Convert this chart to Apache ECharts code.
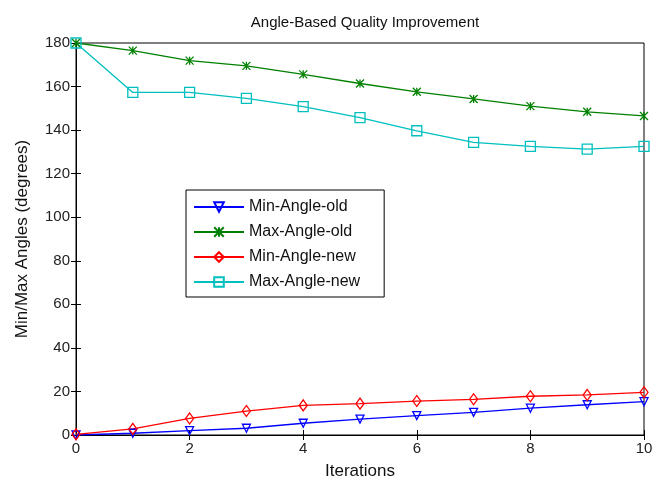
<!DOCTYPE html>
<html>
<head>
<meta charset="utf-8">
<script src="https://cdn.jsdelivr.net/npm/echarts@6/dist/echarts.min.js"></script>
<style>
  html, body { margin: 0; padding: 0; background: #fff; }
  #chart { width: 653px; height: 482px; }
</style>
</head>
<body>
<div id="chart"></div>
<script>
// Iterations along x
const iterations = [0, 1, 2, 3, 4, 5, 6, 7, 8, 9, 10];

// Series values (degrees)
const minAngleOld = [0, 0.8, 2.0, 3.1, 5.4, 7.3, 8.9, 10.4, 12.3, 13.9, 15.3];
const maxAngleOld = [180, 176.5, 171.9, 169.5, 165.6, 161.4, 157.6, 154.3, 151.0, 148.4, 146.5];
const minAngleNew = [0.3, 2.8, 7.6, 11.0, 13.6, 14.4, 15.6, 16.4, 17.8, 18.4, 19.6];
const maxAngleNew = [180, 157.3, 157.3, 154.6, 150.8, 145.7, 139.7, 134.4, 132.5, 131.3, 132.5];

const font = 'Liberation Sans, Arial, sans-serif';
const xMark = 'path://M0,0L10,10M10,0L0,10M5,0L5,10';

const pairs = arr => iterations.map((x, i) => [x, arr[i]]);

const chart = echarts.init(document.getElementById('chart'));

const baseAxis = {
    type: 'value',
    axisLine: { show: true, lineStyle: { color: '#000', width: 1 } },
    axisTick: { show: true, inside: true, length: 5, lineStyle: { color: '#000' } },
    splitLine: { show: false },
    axisLabel: { color: '#222', fontFamily: font, fontSize: 15, margin: 6 }
};

function lineSeries(name, arr, color, symbol, extra = {}) {
    return {
        name,
        type: 'line',
        data: pairs(arr),
        symbol,
        symbolSize: 9,
        showSymbol: true,
        lineStyle: { color, width: 1.3 },
        itemStyle: { color: 'transparent', borderColor: color, borderWidth: 1.3 },
        emphasis: { disabled: true },
        animation: false,
        ...extra
    };
}

chart.setOption({
    backgroundColor: '#fff',
    title: {
        text: 'Angle-Based Quality Improvement',
        left: 360,
        textAlign: 'center',
        top: 10,
        textStyle: { fontFamily: font, fontSize: 15, fontWeight: 'normal', color: '#111' }
    },
    grid: {
        left: 76, right: 9, top: 43, bottom: 47,
        outerBoundsMode: 'none',
        containLabel: false,
        show: true, borderColor: '#000', borderWidth: 1
    },
    legend: {
        left: 186,
        top: 190,
        orient: 'vertical',
        backgroundColor: '#fff',
        borderColor: '#000',
        borderWidth: 1,
        padding: [9, 24, 7, 7],
        itemGap: 9,
        itemWidth: 50,
        itemHeight: 12,
        textStyle: { fontFamily: font, fontSize: 16, color: '#111' },
        data: ['Min-Angle-old', 'Max-Angle-old', 'Min-Angle-new', 'Max-Angle-new']
    },
    xAxis: [
        {
            ...baseAxis,
            min: 0, max: 10, interval: 2,
            name: 'Iterations',
            nameLocation: 'middle',
            nameGap: 28,
            nameTextStyle: { fontFamily: font, fontSize: 17, color: '#111' }
        },
        {
            ...baseAxis,
            position: 'top',
            min: 0, max: 10, interval: 2,
            axisLabel: { show: false }
        }
    ],
    yAxis: [
        {
            ...baseAxis,
            min: 0, max: 180, interval: 20,
            name: 'Min/Max Angles (degrees)',
            nameLocation: 'middle',
            nameGap: 45,
            nameTextStyle: { fontFamily: font, fontSize: 17, color: '#111' }
        },
        {
            ...baseAxis,
            position: 'right',
            min: 0, max: 180, interval: 20,
            axisLabel: { show: false }
        }
    ],
    series: [
        lineSeries('Min-Angle-old', minAngleOld, '#0000ff', 'triangle', { symbolRotate: 180, symbolSize: 8 }),
        lineSeries('Max-Angle-old', maxAngleOld, '#008000', xMark, { symbolSize: 8 }),
        lineSeries('Min-Angle-new', minAngleNew, '#ff0000', 'diamond', { symbolSize: [8, 11] }),
        lineSeries('Max-Angle-new', maxAngleNew, '#00bfbf', 'rect', { symbolSize: 10 })
    ]
});
</script>
</body>
</html>
